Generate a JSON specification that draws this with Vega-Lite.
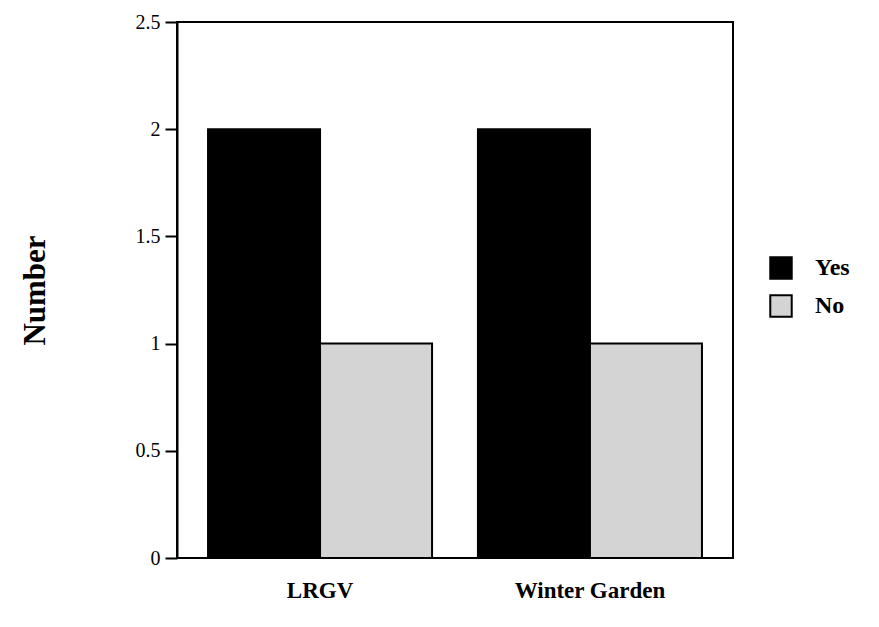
{
  "$schema": "https://vega.github.io/schema/vega-lite/v6.json",
  "width": 556,
  "height": 536,
  "autosize": {"type": "none"},
  "padding": {"left": 177, "top": 22, "right": 146, "bottom": 69},
  "background": "white",
  "config": {
    "view": {"stroke": "black", "strokeWidth": 2},
    "font": "Liberation Serif"
  },
  "data": {
    "values": [
      {"region": "LRGV", "answer": "Yes", "count": 2},
      {"region": "LRGV", "answer": "No", "count": 1},
      {"region": "Winter Garden", "answer": "Yes", "count": 2},
      {"region": "Winter Garden", "answer": "No", "count": 1}
    ]
  },
  "mark": {"type": "bar", "stroke": "black", "strokeWidth": 2},
  "encoding": {
    "x": {
      "field": "region", "type": "nominal", "sort": ["LRGV", "Winter Garden"],
      "scale": {"paddingInner": 0.17, "paddingOuter": 0.115},
      "axis": {
        "title": null, "labelAngle": 0, "domain": false, "ticks": false,
        "labelFont": "Liberation Serif", "labelFontSize": 23, "labelFontWeight": "bold",
        "labelColor": "black", "labelPadding": 21
      }
    },
    "xOffset": {
      "field": "answer", "type": "nominal", "sort": ["Yes", "No"],
      "scale": {"paddingInner": 0, "paddingOuter": 0}
    },
    "y": {
      "field": "count", "type": "quantitative",
      "scale": {"domain": [0, 2.5], "nice": false},
      "axis": {
        "title": "Number", "values": [0, 0.5, 1, 1.5, 2, 2.5], "format": "~g",
        "grid": false, "domainColor": "black", "domainWidth": 2,
        "tickColor": "black", "tickWidth": 2, "tickSize": 12,
        "labelFont": "Liberation Serif", "labelFontSize": 20, "labelColor": "black", "labelPadding": 5,
        "titleFont": "Liberation Serif", "titleFontSize": 31, "titleFontWeight": "bold",
        "titleColor": "black", "titlePadding": 84
      }
    },
    "fill": {
      "field": "answer", "type": "nominal", "sort": ["Yes", "No"],
      "scale": {"domain": ["Yes", "No"], "range": ["#000000", "#d4d4d4"]},
      "legend": {
        "title": null, "orient": "none", "legendX": 592, "legendY": 234,
        "symbolType": "square", "symbolSize": 460, "symbolStrokeColor": "black", "symbolStrokeWidth": 2,
        "labelFont": "Liberation Serif", "labelFontSize": 24, "labelFontWeight": "bold",
        "labelColor": "black", "labelOffset": 22, "rowPadding": 8
      }
    }
  }
}
